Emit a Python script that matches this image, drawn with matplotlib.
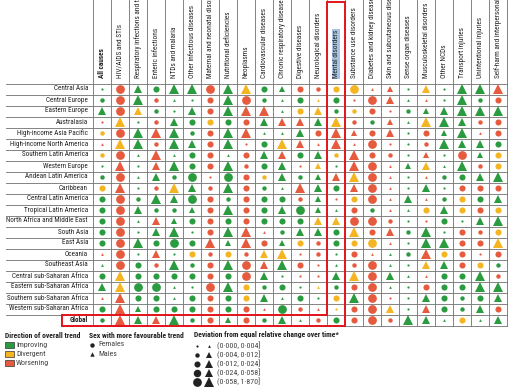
import matplotlib
matplotlib.use("Agg")
import matplotlib.pyplot as plt
from matplotlib import font_manager
from matplotlib.font_manager import FontProperties
from matplotlib.textpath import TextPath
from matplotlib.patches import Rectangle

names = {f.name for f in font_manager.fontManager.ttflist}
fam = "Liberation Sans"
for cand in ["Liberation Sans Narrow", "Roboto Condensed", "Open Sans Condensed",
             "Noto Sans Condensed", "DejaVu Sans Condensed"]:
    if cand in names:
        fam = cand
        break
plt.rcParams['font.family'] = [fam, 'DejaVu Sans']

causes = ["All causes", "HIV/AIDS and STIs", "Respiratory infections and tuberculosis",
          "Enteric infections", "NTDs and malaria", "Other infectious diseases",
          "Maternal and neonatal disorders", "Nutritional deficiencies", "Neoplasms",
          "Cardiovascular diseases", "Chronic respiratory diseases", "Digestive diseases",
          "Neurological disorders", "Mental disorders", "Substance use disorders",
          "Diabetes and kidney diseases", "Skin and subcutaneous diseases",
          "Sense organ diseases", "Musculoskeletal disorders", "Other NCDs",
          "Transport injuries", "Unintentional injuries",
          "Self-harm and interpersonal violence"]

regions = ["Central Asia", "Central Europe", "Eastern Europe", "Australasia",
           "High-income Asia Pacific", "High-income North America",
           "Southern Latin America", "Western Europe", "Andean Latin America",
           "Caribbean", "Central Latin America", "Tropical Latin America",
           "North Africa and Middle East", "South Asia", "East Asia", "Oceania",
           "Southeast Asia", "Central sub-Saharan Africa", "Eastern sub-Saharan Africa",
           "Southern sub-Saharan Africa", "Western sub-Saharan Africa", "Global"]

# trend (G improving / Y divergent / R worsening), sex (o females / ^ males), deviation bin 1-5
cells = [
    "Go1 Ro5 G^3 Go3 G^5 G^5 Ro5 G^5 Y^5 Go3 G^2 Ro3 Ro2 Yo3 Yo5 R^1 R^2 Go1 Y^3 Go1 G^5 G^5 R^5",
    "Go2 Ro5 G^5 Ro2 G^1 Go1 Ro3 G^5 Ro5 Go2 G^1 Go3 Y^1 Go3 Ro1 Ro5 R^3 G^1 R^1 Go1 G^5 Go2 Ro3",
    "G^3 Ro5 Y^3 Go2 Go1 G^3 Ro3 G^5 R^5 R^5 G^1 Yo3 Y^3 Go2 Yo2 Ro3 Ro1 Go2 G^2 G^3 G^5 G^5 G^5",
    "Ro1 Y^5 Go1 Ro2 G^3 Go3 Yo3 Go3 Ro3 G^3 R^3 R^3 G^3 Y^5 Ro2 Go2 R^2 G^1 Y^5 G^5 G^3 Ro2 Ro3",
    "Yo2 Ro5 G^5 R^5 G^5 Go2 Ro3 G^5 R^5 G^1 G^1 G^3 Ro3 R^5 R^2 Ro3 R^3 Go1 Ro3 G^2 G^5 R^1 Ro3",
    "R^1 Y^5 G^5 Ro2 G^5 G^3 Ro3 G^5 Ro1 Go3 Y^5 R^3 R^1 R^5 R^1 Ro5 Ro1 Go1 Ro2 G^5 G^3 G^3 Go3",
    "Yo2 Ro5 G^1 R^5 G^1 Go3 Ro3 G^1 Ro3 G^3 R^3 Go3 G^3 Yo2 R^5 Ro3 Ro2 Go1 R^2 Go1 Ro5 G^2 Yo3",
    "Go1 R^5 Go1 R^3 G^5 Go3 Ro3 G^5 Ro2 Go3 G^3 Ro1 Y^2 Go1 R^5 Ro5 R^1 G^2 Y^3 G^1 G^5 Ro2 Yo3",
    "Go2 Ro5 G^1 G^3 Go2 Go5 Ro1 Go5 Ro3 Yo2 G^3 Go2 G^2 R^3 Y^5 Ro5 R^1 Go1 R^1 Go2 Go3 G^3 G^5",
    "Yo3 R^5 Go1 Ro2 Y^5 G^3 Ro2 G^5 Ro3 Go2 G^1 R^5 G^3 Go3 R^3 Ro5 R^1 Go1 G^3 Go1 Ro3 Ro3 Ro3",
    "Go3 Ro5 Go2 G^5 G^3 Go5 Ro3 Go2 Ro3 Go3 Go3 Ro2 G^2 Ro1 Yo3 Ro5 R^1 G^3 R^1 Go2 Yo3 Go3 G^3",
    "Go3 Ro5 G^3 Go2 Go2 G^2 Ro3 G^5 Ro3 Go3 G^3 Go5 G^2 G^1 Ro3 Go2 R^1 G^1 Yo3 G^3 Yo3 Ro3 Yo3",
    "Go3 Ro5 G^1 R^3 G^2 Go3 Ro3 Go3 Ro3 Go3 Go3 Go3 Y^3 Y^3 Ro5 Ro5 Ro2 Go1 Ro1 Go3 Go1 G^3 G^5",
    "Go3 Ro5 Go1 G^3 G^5 Go1 Ro3 G^5 R^5 R^1 Go2 G^3 G^3 Go3 Y^5 Ro3 R^3 Go2 G^5 Go1 Ro3 Ro2 Yo3",
    "Go3 Ro5 G^5 Go3 Go5 Go3 R^5 G^2 R^5 Ro3 G^2 Yo3 Ro2 Go3 Yo3 Yo5 R^1 Go1 G^5 G^5 Ro3 Ro3 Y^5",
    "R^1 Ro5 Go1 R^3 Go1 Yo3 Ro2 Yo3 Ro2 Y^3 Y^5 Ro1 Ro2 Go1 Ro3 R^1 G^1 Go2 R^5 Yo3 Ro3 Ro1 Ro3",
    "G^1 Ro5 Go3 Ro2 G^5 Go2 Ro3 G^5 Ro5 R^3 G^5 Ro3 Ro1 G^1 Ro2 Ro5 G^1 Go1 Y^3 G^3 Ro3 Yo3 Go2",
    "Go3 Y^5 Go3 Go3 Go3 Go3 Ro3 Go3 Ro5 G^3 Go1 Ro1 Ro1 G^3 Y^5 Ro5 G^3 G^1 R^1 Go3 Go3 G^5 Ro2",
    "G^3 Y^5 Go5 Go5 G^1 Go1 Ro5 G^5 Yo3 Go2 Go3 Go1 Y^1 Go2 Ro3 Ro5 G^1 Go1 Ro3 Go3 Go3 G^5 G^5",
    "R^1 R^5 Go3 Go3 G^1 Go3 Ro3 Go3 Yo3 G^3 G^1 Go3 Go1 Yo3 G^5 Ro5 Ro1 Go1 G^3 Go3 Go2 Go3 G^3",
    "Go3 R^5 G^2 Go3 Go3 Go3 Ro3 Go3 Ro3 R^1 Go5 Ro2 R^1 Yo1 Ro3 Ro5 Y^3 Go1 R^3 Go3 Go2 G^3 Ro3",
    "Go2 R^5 G^3 R^3 G^5 Go2 Ro3 G^2 Ro3 Go2 G^3 G^1 Ro2 Go3 Ro3 Ro5 Ro2 G^5 G^3 G^1 Yo3 G^1 G^3",
]

trend_labels = ["Improving", "Divergent", "Worsening"]
sex_labels = ["Females", "Males"]
bins = ["(0·000, 0·004]", "(0·004, 0·012]", "(0·012, 0·024]", "(0·024, 0·058]", "(0·058, 1·870]"]

colors = {"G": "#2b9b3f", "Y": "#f5b523", "R": "#e65b3d"}
circ_ms = [1.6, 3.2, 4.4, 5.4, 6.3]
tri_ms = [2.0, 3.8, 5.2, 6.4, 7.5]
W, H = 512, 389
gc = "#7a7a7a"


def fit_size(s, target_px, weight="normal"):
    # font size (pt) at which s is target_px wide
    tp = TextPath((0, 0), s, size=10, prop=FontProperties(family=fam, weight=weight))
    w = tp.get_extents().width * 100 / 72
    return 10 * target_px / w


fs_row = fit_size("North Africa and Middle East", 80)
fs_head = fit_size("Nutritional deficiencies", 66)
fs_leg = fit_size("Deviation from equal relative change over time*", 146, "bold")
fs_leg_t = fit_size("(0·058, 1·870]", 42)

fig = plt.figure(figsize=(W / 100, H / 100), dpi=100)
lax = fig.add_axes([0, 0, 1, 1])
lax.set_xlim(0, W)
lax.set_ylim(H, 0)
lax.axis("off")

ax = fig.add_axes([93 / W, 1 - 325.5 / H, 414 / W, 242 / H])
ax.set_xlim(-0.5, 22.5)
ax.set_ylim(21.5, -0.5)
ax.axis("off")


def xd(px):
    return -0.5 + (px - 93) / 18


def yd(py):
    return -0.5 + (py - 83.5) / 11


# grid
for k in range(len(causes) + 1):
    ax.plot([k - 0.5] * 2, [yd(0), 21.5], color=gc, lw=0.65, clip_on=False)
for r in range(len(regions)):
    ax.plot([xd(6), 22.5], [r - 0.5] * 2, color=gc, lw=0.65, clip_on=False)
ax.plot([xd(62), 22.5], [21.5] * 2, color=gc, lw=0.65, clip_on=False)

# markers
for r, row in enumerate(cells):
    for c, tok in enumerate(row.split()):
        b = int(tok[2]) - 1
        if tok[1] == "o":
            ax.plot(c, r, "o", ms=circ_ms[b], color=colors[tok[0]], mew=0)
        else:
            ax.plot(c, r, "^", ms=tri_ms[b], color=colors[tok[0]], mew=0)

# headers
for c, lab in enumerate(causes):
    kw = {}
    if c == 0:
        kw["fontweight"] = "bold"
    if lab == "Mental disorders":
        kw["bbox"] = dict(facecolor="#a8c3e2", edgecolor="none", pad=0.4)
    ax.text(c, yd(78), lab, rotation=90, ha="center", va="bottom", fontsize=fs_head,
            color="#222222", clip_on=False, **kw)

for r, lab in enumerate(regions):
    ax.text(xd(88), r, lab, ha="right", va="center", fontsize=fs_row, color="#222222",
            fontweight="bold" if lab == "Global" else "normal", clip_on=False)

# red highlight boxes
mc = causes.index("Mental disorders")
gr = regions.index("Global")
ax.plot([xd(62), mc - 0.5, mc - 0.5, mc + 0.5, mc + 0.5, xd(62), xd(62)],
        [gr - 0.5, gr - 0.5, yd(2), yd(2), gr + 0.5, gr + 0.5, gr - 0.5],
        color="#e3141b", lw=1.4, clip_on=False, solid_joinstyle="miter")

# legend
hc, tc = "#222222", "#444444"
lax.text(5, 335, "Direction of overall trend", fontsize=fs_leg, fontweight="bold", color=hc, va="center")
for i, (lab, key) in enumerate(zip(trend_labels, "GYR")):
    lax.add_patch(Rectangle((5, 342 + 9 * i), 9, 6, facecolor=colors[key], edgecolor="#333333", lw=0.5))
    lax.text(16, 345 + 9 * i, lab, fontsize=fs_leg_t, color=tc, va="center")

lax.text(89, 335, "Sex with more favourable trend", fontsize=fs_leg, fontweight="bold", color=hc, va="center")
for i, (lab, m) in enumerate(zip(sex_labels, "o^")):
    lax.plot(92, 344.5 + 9 * i, m, ms=3.2, color="#222222", mew=0)
    lax.text(98, 344.5 + 9 * i, lab, fontsize=fs_leg_t, color=tc, va="center")

lax.text(194, 335, "Deviation from equal relative change over time*", fontsize=fs_leg,
         fontweight="bold", color=hc, va="center")
for i, lab in enumerate(bins):
    y = 345.5 + 9 * i
    lax.plot(197, y, "o", ms=circ_ms[i], color="#222222", mew=0)
    lax.plot(209, y, "^", ms=tri_ms[i], color="#222222", mew=0)
    lax.text(217, y, lab, fontsize=fs_leg_t, color=tc, va="center")

fig.savefig("out.png", dpi=100)
